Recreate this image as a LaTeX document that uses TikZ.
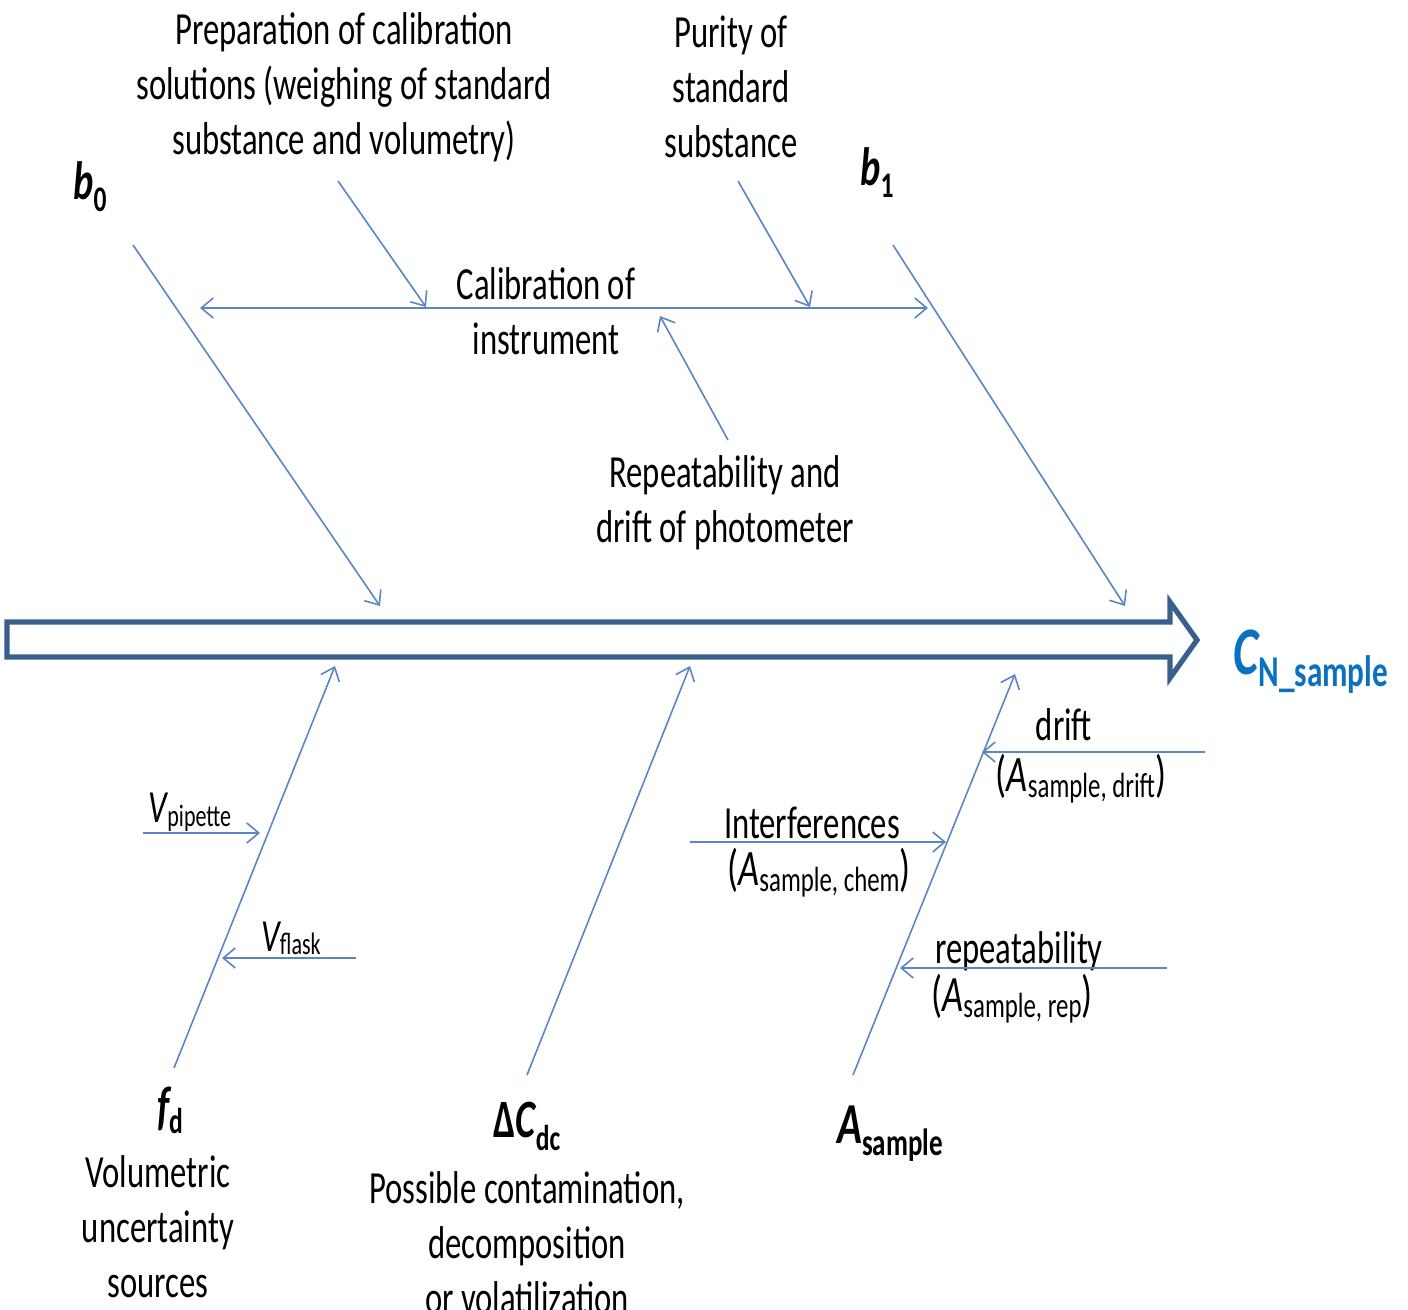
\documentclass[tikz,border=0pt]{standalone}
\usepackage{fontspec}
\setmainfont{Carlito}[FakeStretch=0.71]
\usetikzlibrary{arrows.meta}
\definecolor{bone}{HTML}{5A86C2}
\definecolor{spine}{HTML}{3B5F8D}
\definecolor{result}{HTML}{0A70C0}
% lowered, smaller text for subscripts: #1 drop, #2 size, #3 text
\newcommand\lowsub[3]{\raisebox{-#1}{\fontsize{#2}{#2}\selectfont #3}}
\begin{document}
\begin{tikzpicture}[x=0.5pt,y=-0.5pt,
  lbl/.style={inner sep=0pt, align=center, font=\fontsize{23}{27.5}\selectfont},
  albl/.style={inner sep=0pt, font=\fontsize{25.5}{27.5}\selectfont},
  sym/.style={inner sep=0pt, font=\fontsize{27}{27}\selectfont\bfseries},
  bonearrow/.style={draw=bone, line width=0.8pt, -{Straight Barb[length=6pt,width=10pt]}},
  spinestyle/.style={draw=spine, line width=2.6pt, fill=white, line join=miter}]
\useasboundingbox (0,0) rectangle (1408,1310);

% ---- spine (hollow block arrow) ----
\coordinate (tail) at (7,640);
\coordinate (head) at (1197,640);
\path[spinestyle] (7,622) -- (1170,622) -- (1170,602) -- (head) -- (1170,678)
  -- (1170,657) -- (7,657) -- cycle;
\node[inner sep=0pt, anchor=base west, text=result] (result) at (1233,674)
  {{\fontsize{34}{34}\selectfont\bfseries\itshape C}\lowsub{6pt}{22pt}{\bfseries N\_sample}};

% ---- upper causes ----
\node[lbl] (prep) at (344,87) {Preparation of calibration\\solutions (weighing of standard\\substance and volumetry)};
\node[lbl] (purity) at (731,87) {Purity of\\standard\\substance};
\node[lbl] (calib) at (546,311) {Calibration of\\instrument};
\node[lbl] (photo) at (725,503) {Repeatability and\\drift of photometer};
\node[sym, anchor=base] (b0) at (90,200) {\itshape b\lowsub{6pt}{18pt}{\upshape 0}};
\node[sym, anchor=base] (b1) at (877,186) {\itshape b\lowsub{6pt}{18pt}{\upshape 1}};

\coordinate (b0s) at (133,245);  \coordinate (b0e) at (380,606);
\coordinate (b1s) at (893,245);  \coordinate (b1e) at (1125,606);
\coordinate (calL) at (200,308); \coordinate (calR) at (928,308);
\coordinate (preps) at (338,181); \coordinate (prepe) at (426,307);
\coordinate (purs) at (738,181);  \coordinate (pure) at (810,307);
\coordinate (phos) at (728,440);  \coordinate (phoe) at (660,316);

\draw[bonearrow] (b0s) -- (b0e);
\draw[bonearrow] (b1s) -- (b1e);
\draw[bonearrow, {Straight Barb[length=6pt,width=10pt]}-{Straight Barb[length=6pt,width=10pt]}] (calL) -- (calR);
\draw[bonearrow] (preps) -- (prepe);
\draw[bonearrow] (purs) -- (pure);
\draw[bonearrow] (phos) -- (phoe);

% ---- lower causes ----
\node[sym, anchor=base] (fd) at (170,1124) {\itshape f\lowsub{4.5pt}{18pt}{\upshape d}};
\node[lbl] (vol) at (158,1227) {Volumetric\\uncertainty\\sources};
\node[sym, anchor=base] (dc) at (527,1137) {Δ\itshape C\lowsub{6.5pt}{18pt}{\upshape dc}};
\node[lbl] (contam) at (527,1243) {Possible contamination,\\decomposition\\or volatilization};
\node[sym, anchor=base, font=\fontsize{29}{29}\selectfont\bfseries] (as) at (890,1143) {\itshape A\lowsub{6pt}{19pt}{\upshape sample}};

\node[lbl, anchor=base] (vpip) at (190,822) {\itshape V\lowsub{2pt}{15.5pt}{\upshape pipette}};
\node[lbl, anchor=base] (vfl) at (291,951) {\itshape V\lowsub{1.5pt}{15.5pt}{\upshape flask}};

\node[lbl] (drift) at (1064,725) {drift};
\node[albl] (adrift) at (1081,779) {(\textit{A}\lowsub{3pt}{17.5pt}{sample, drift})};
\node[lbl] (interf) at (812,823) {Interferences};
\node[albl] (achem) at (819,873) {(\textit{A}\lowsub{3pt}{17.5pt}{sample, chem})};
\node[lbl] (rep) at (1019,951) {repeatability};
\node[albl] (arep) at (1012,999) {(\textit{A}\lowsub{3pt}{17.5pt}{sample, rep})};

\coordinate (fds) at (174,1068);  \coordinate (fde) at (335,666);
\coordinate (dcs) at (527,1075);  \coordinate (dce) at (690,666);
\coordinate (ass) at (853,1075);  \coordinate (ase) at (1015,674);
\coordinate (vps) at (143,833);   \coordinate (vpe) at (260,833);
\coordinate (vfs) at (356,958);   \coordinate (vfe) at (222,958);
\coordinate (drs) at (1205,752);  \coordinate (dre) at (982,752);
\coordinate (ins) at (690,842);   \coordinate (ine) at (946,842);
\coordinate (rps) at (1167,968);  \coordinate (rpe) at (900,968);

\draw[bonearrow] (fds) -- (fde);
\draw[bonearrow] (dcs) -- (dce);
\draw[bonearrow] (ass) -- (ase);
\draw[bonearrow] (vps) -- (vpe);
\draw[bonearrow] (vfs) -- (vfe);
\draw[bonearrow] (drs) -- (dre);
\draw[bonearrow] (ins) -- (ine);
\draw[bonearrow] (rps) -- (rpe);
\end{tikzpicture}
\end{document}
